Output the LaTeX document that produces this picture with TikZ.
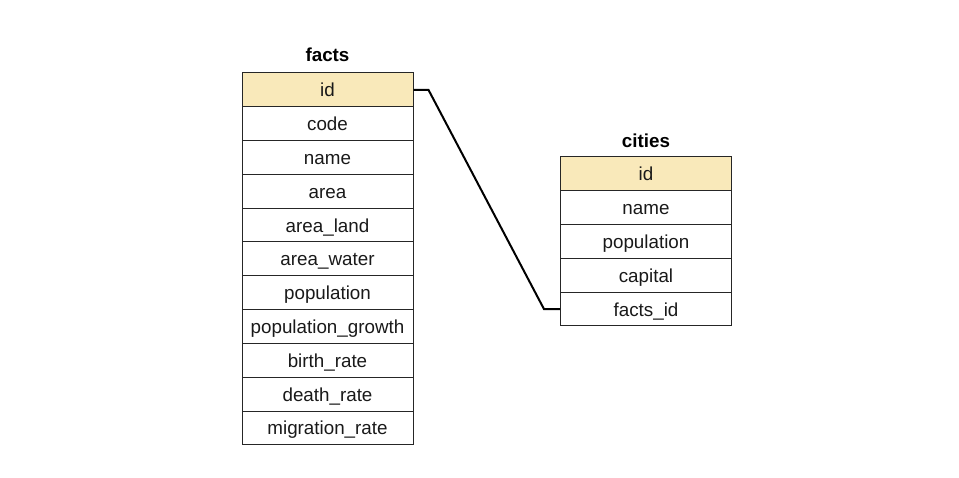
\documentclass[tikz,border=0pt]{standalone}
\usepackage{fontspec}
\setmainfont{Liberation Sans}
\begin{document}
\begin{tikzpicture}[x=1pt,y=-1pt,
  cell/.style={draw=black!85,line width=1pt,minimum width=171pt,minimum height=33.8pt,inner sep=0pt,text height=16pt,text depth=2pt,font=\fontsize{18.8}{22}\selectfont,text=black!90},
  keycell/.style={cell,fill=keyfill},
  title/.style={font=\bfseries\fontsize{18.8}{22}\selectfont},
  link/.style={line width=2pt,black}]
\definecolor{keyfill}{HTML}{F9E9BA}
\useasboundingbox (0,0) rectangle (959,478);
% facts table
\node[keycell] (f1) at (327.5,89.9) {id};
\foreach \t [count=\i from 2] in {code,name,area,area\_land,area\_water,population,population\_growth,birth\_rate,death\_rate,migration\_rate}{
  \node[cell] (f\i) at (327.5,{89.9+(\i-1)*33.8}) {\t};
}
\node[title] (ft) at (327.5,54.5) {facts};
% cities table
\node[keycell] (c1) at (646,173.9) {id};
\foreach \t [count=\i from 2] in {name,population,capital,facts\_id}{
  \node[cell] (c\i) at (646,{173.9+(\i-1)*33.8}) {\t};
}
\node[title] (ct) at (646,140.5) {cities};
% connector
\coordinate (a) at ([xshift=15pt]f1.east);
\coordinate (b) at ([xshift=-16pt]c5.west);
\draw[link] (f1.east) -- (a) -- (b) -- (c5.west);
\end{tikzpicture}
\end{document}
